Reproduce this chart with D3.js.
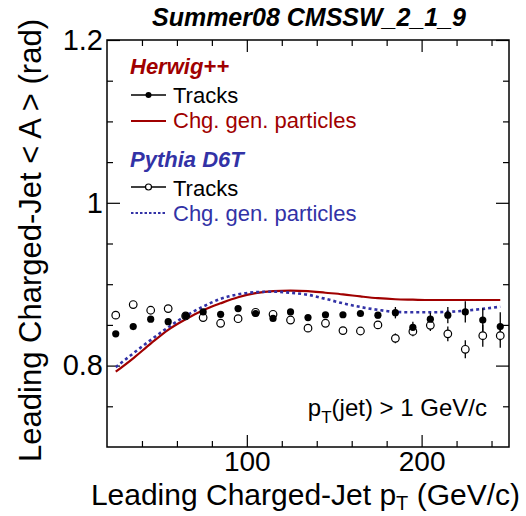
<!DOCTYPE html>
<html><head><meta charset="utf-8">
<script src="https://cdn.jsdelivr.net/npm/d3@7"></script>
<style>
html,body{margin:0;padding:0;background:#fff;}
svg{display:block;font-family:"Liberation Sans",Arial,Helvetica,sans-serif;}
</style></head>
<body>
<script>
const ptBins = [25,35,45,55,65,75,85,95,105,115,125,135,145,155,165,175,185,195,205,215,225,235,245];
const herwigTracks = [0.839,0.848,0.857,0.854,0.861,0.866,0.863,0.870,0.864,0.858,0.866,0.859,0.8625,0.8625,0.864,0.862,0.865,0.847,0.857,0.862,0.866,0.856,0.848];
const herwigErr = [0.001,0.001,0.001,0.001,0.001,0.001,0.0015,0.0015,0.002,0.002,0.002,0.0025,0.003,0.003,0.0035,0.004,0.007,0.007,0.008,0.010,0.013,0.0145,0.0175];
const pythiaTracks = [0.862,0.875,0.868,0.870,0.861,0.859,0.852,0.8576,0.8655,0.863,0.856,0.846,0.852,0.843,0.8425,0.850,0.8335,0.842,0.8495,0.839,0.820,0.8368,0.8368];
const pythiaErr = [0.001,0.001,0.001,0.001,0.001,0.001,0.0015,0.0015,0.002,0.002,0.002,0.0025,0.003,0.003,0.0035,0.004,0.006,0.006,0.007,0.009,0.011,0.0135,0.015];
const herwigGen = [0.7925,0.809,0.827,0.844,0.857,0.868,0.8765,0.884,0.889,0.8915,0.892,0.8915,0.8895,0.8875,0.885,0.8828,0.8815,0.881,0.8806,0.8806,0.8806,0.8806,0.8806];
const pythiaGen = [0.798,0.815,0.8315,0.847,0.861,0.8725,0.882,0.8875,0.8902,0.8908,0.8895,0.887,0.882,0.8765,0.872,0.8685,0.866,0.8655,0.8655,0.866,0.8675,0.8697,0.8724];
const xMajorTicks = [100,200];
const xMinorTicks = [40,60,80,120,140,160,180,220,240];
const yMajorTicks = [0.8,1.0,1.2];
const yMinorTicks = [0.75,0.85,0.9,0.95,1.05,1.1,1.15];

const W=526,H=516;
const RED="#a00000", BLUE="#3232a6";
const svg=d3.select("body").append("svg").attr("width",W).attr("height",H);
const x=d3.scaleLinear().domain([20,250]).range([107,509]);
const y=d3.scaleLinear().domain([0.7,1.2]).range([447,40]);

// frame
svg.append("rect").attr("x",107).attr("y",40).attr("width",402).attr("height",407)
  .attr("fill","none").attr("stroke","#000").attr("stroke-width",1.5);

function styleAxis(g){g.select(".domain").remove();g.selectAll("line").attr("stroke","#000").attr("stroke-width",1.2);}
const fmtY=d=>d===1?"1":d.toFixed(1);
// bottom
svg.append("g").attr("transform","translate(0,447)")
  .call(d3.axisBottom(x).tickValues(xMajorTicks).tickSize(-12).tickPadding(4).tickFormat(d3.format("d")))
  .call(styleAxis).selectAll("text").attr("font-size",28).attr("fill","#000").attr("font-family","Liberation Sans, Arial");
svg.append("g").attr("transform","translate(0,447)")
  .call(d3.axisBottom(x).tickValues(xMinorTicks).tickSize(-6).tickFormat(""))
  .call(styleAxis);
// top
svg.append("g").attr("transform","translate(0,40)")
  .call(d3.axisTop(x).tickValues(xMajorTicks).tickSize(-12).tickFormat("")).call(styleAxis);
svg.append("g").attr("transform","translate(0,40)")
  .call(d3.axisTop(x).tickValues(xMinorTicks).tickSize(-6).tickFormat("")).call(styleAxis);
// left
svg.append("g").attr("transform","translate(107,0)")
  .call(d3.axisLeft(y).tickValues(yMajorTicks).tickSize(-13).tickPadding(4).tickFormat(fmtY))
  .call(styleAxis).selectAll("text").attr("font-size",29).attr("fill","#000").attr("font-family","Liberation Sans, Arial");
svg.append("g").attr("transform","translate(107,0)")
  .call(d3.axisLeft(y).tickValues(yMinorTicks).tickSize(-6).tickFormat("")).call(styleAxis);
// right
svg.append("g").attr("transform","translate(509,0)")
  .call(d3.axisRight(y).tickValues(yMajorTicks).tickSize(-13).tickFormat("")).call(styleAxis);
svg.append("g").attr("transform","translate(509,0)")
  .call(d3.axisRight(y).tickValues(yMinorTicks).tickSize(-6).tickFormat("")).call(styleAxis);

// curves
const line=d3.line().x((d,i)=>x(ptBins[i])).y(d=>y(d)).curve(d3.curveMonotoneX);
svg.append("path").attr("d",line(herwigGen)).attr("fill","none").attr("stroke",RED).attr("stroke-width",2.2);
svg.append("path").attr("d",line(pythiaGen)).attr("fill","none").attr("stroke",BLUE).attr("stroke-width",2.6).attr("stroke-dasharray","3,3");

// error bars
function drawErr(vals,errs){
  svg.append("g").selectAll("line").data(vals).join("line")
    .attr("x1",(d,i)=>x(ptBins[i])).attr("x2",(d,i)=>x(ptBins[i]))
    .attr("y1",(d,i)=>y(d-errs[i])).attr("y2",(d,i)=>y(d+errs[i]))
    .attr("stroke","#000").attr("stroke-width",1.3);
}
drawErr(pythiaTracks,pythiaErr);
drawErr(herwigTracks,herwigErr);
svg.append("g").selectAll("circle").data(pythiaTracks).join("circle")
  .attr("cx",(d,i)=>x(ptBins[i])).attr("cy",d=>y(d)).attr("r",3.8)
  .attr("fill","#fff").attr("stroke","#000").attr("stroke-width",1.2);
svg.append("g").selectAll("circle").data(herwigTracks).join("circle")
  .attr("cx",(d,i)=>x(ptBins[i])).attr("cy",d=>y(d)).attr("r",3.6)
  .attr("fill","#000");

// title
svg.append("text").attr("x",309).attr("y",26).attr("text-anchor","middle")
  .attr("font-size",25).attr("font-weight","bold").attr("font-style","italic").text("Summer08 CMSSW_2_1_9");

// axis titles
const xt=svg.append("text").attr("x",520).attr("y",505).attr("text-anchor","end").attr("font-size",30);
xt.append("tspan").text("Leading Charged-Jet p");
xt.append("tspan").attr("font-size",20).attr("dy",5).text("T");
xt.append("tspan").attr("dy",-5).text(" (GeV/c)");
svg.append("text").attr("transform","translate(41,19) rotate(-90)").attr("text-anchor","end")
  .attr("font-size",31).text("Leading Charged-Jet < A > (rad)");

// legend
svg.append("text").attr("x",130).attr("y",74).attr("font-size",22).attr("font-weight","bold").attr("font-style","italic").attr("fill",RED).text("Herwig++");
svg.append("line").attr("x1",131).attr("x2",166).attr("y1",95).attr("y2",95).attr("stroke","#000").attr("stroke-width",1.3);
svg.append("circle").attr("cx",148.5).attr("cy",95).attr("r",3).attr("fill","#000");
svg.append("text").attr("x",173).attr("y",103).attr("font-size",22).text("Tracks");
svg.append("line").attr("x1",131).attr("x2",166).attr("y1",121).attr("y2",121).attr("stroke",RED).attr("stroke-width",2.2);
svg.append("text").attr("x",173).attr("y",128).attr("font-size",22).attr("fill",RED).text("Chg. gen. particles");
svg.append("text").attr("x",130).attr("y",167).attr("font-size",22).attr("font-weight","bold").attr("font-style","italic").attr("fill",BLUE).text("Pythia D6T");
svg.append("line").attr("x1",131).attr("x2",166).attr("y1",187).attr("y2",187).attr("stroke","#000").attr("stroke-width",1.3);
svg.append("circle").attr("cx",148.5).attr("cy",187).attr("r",3).attr("fill","#fff").attr("stroke","#000").attr("stroke-width",1.2);
svg.append("text").attr("x",173).attr("y",196).attr("font-size",22).text("Tracks");
svg.append("line").attr("x1",131).attr("x2",166).attr("y1",213).attr("y2",213).attr("stroke",BLUE).attr("stroke-width",2.2).attr("stroke-dasharray","2.5,2");
svg.append("text").attr("x",173).attr("y",221).attr("font-size",22).attr("fill",BLUE).text("Chg. gen. particles");

// annotation
const an=svg.append("text").attr("x",487).attr("y",416).attr("text-anchor","end").attr("font-size",24);
an.append("tspan").text("p");
an.append("tspan").attr("font-size",17).attr("dy",7).text("T");
an.append("tspan").attr("dy",-7).text("(jet) > 1 GeV/c");
</script>
</body></html>
